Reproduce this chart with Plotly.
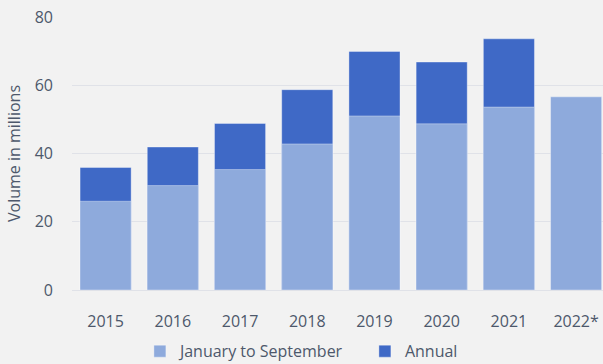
import plotly.graph_objects as go

years = ["2015", "2016", "2017", "2018", "2019", "2020", "2021", "2022*"]
jan_to_sep = [26.0, 30.6, 35.3, 42.8, 51.0, 48.7, 53.6, 56.6]
annual = [35.9, 41.9, 48.8, 58.7, 69.9, 66.8, 73.6, None]

text_color = "#4d586b"
font_family = "Open Sans, Noto Sans, sans-serif"

fig = go.Figure()

# Full-year volume drawn behind, January-September in front
fig.add_trace(go.Bar(
    x=years, y=annual, name="Annual",
    marker=dict(color="#3f69c6", line=dict(color="rgba(255,255,255,0.35)", width=1)),
    width=0.76, legendrank=2,
))
fig.add_trace(go.Bar(
    x=years, y=jan_to_sep, name="January to September",
    marker=dict(color="#8eaadc", line=dict(color="rgba(255,255,255,0.35)", width=1)),
    width=0.76, legendrank=1,
))

fig.update_layout(
    width=603, height=364,
    barmode="overlay",
    paper_bgcolor="#f2f2f2", plot_bgcolor="#f2f2f2",
    margin=dict(l=72, r=0, t=17, b=74, autoexpand=False),
    font=dict(family=font_family, size=16, color=text_color),
    showlegend=True,
    legend=dict(orientation="h", xref="container", yref="container",
                x=0.232, xanchor="left", y=0.035, yanchor="middle",
                entrywidth=180, entrywidthmode="pixels",
                font=dict(size=16, color=text_color), bgcolor="rgba(0,0,0,0)"),
    xaxis=dict(range=[-0.5, 7.4], showgrid=False, showline=False, ticks="",
               ticklabelstandoff=20, automargin=False,
               tickfont=dict(size=16, color=text_color)),
    yaxis=dict(range=[0, 80], tickvals=[0, 20, 40, 60, 80], showgrid=True,
               gridcolor="#e0e2e8", gridwidth=1, zeroline=True, zerolinecolor="#e0e2e8",
               zerolinewidth=1, ticks="", ticklabelstandoff=18, automargin=False,
               tickfont=dict(size=16, color=text_color),
               title=dict(text="Volume in millions", font=dict(size=16, color=text_color),
                          standoff=10)),
)

fig.write_html("out.html")
